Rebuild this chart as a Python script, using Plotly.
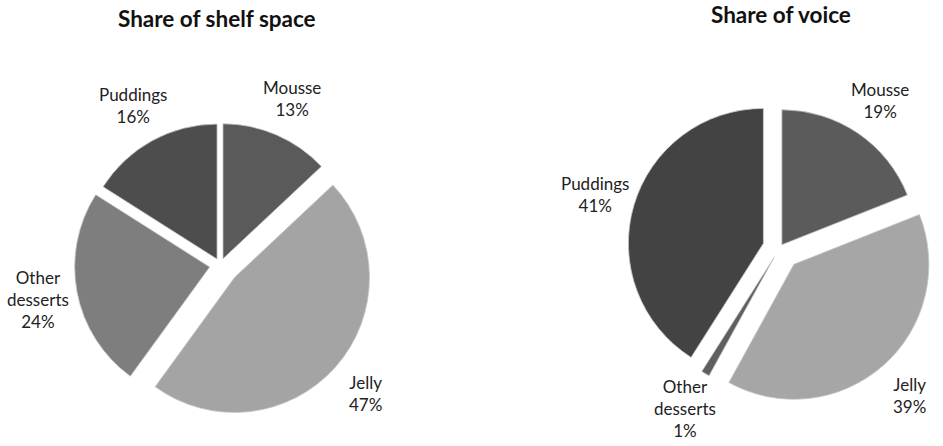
import math
import plotly.graph_objects as go

categories = ["Mousse", "Jelly", "Other desserts", "Puddings"]
shelf_values = [13, 47, 24, 16]
voice_values = [19, 39, 1, 41]
shelf_colors = ["#5a5a5a", "#a4a4a4", "#7e7e7e", "#4d4d4d"]
voice_colors = ["#5b5b5b", "#a6a6a6", "#5f5f5f", "#434343"]
shelf_pull = [0.05, 0.14, 0.08, 0.05]
voice_pull = [0.03, 0.16, 0.08, 0.125]
titles = ["Share of shelf space", "Share of voice"]

label_text = [c.replace(" ", "<br>") for c in categories]
W, H = 943, 446
R = 135          # pie radius in px
LABEL_GAP = 40   # distance of label centre beyond the pulled slice edge


def dom(cx, cy, r, pull):
    size = 2 * r * (1 + max(pull))
    return dict(x=[(cx - size / 2) / W, (cx + size / 2) / W],
                y=[1 - (cy + size / 2) / H, 1 - (cy - size / 2) / H])


label_font = dict(family="Lato, 'Open Sans', sans-serif", size=17, color="#222222")
title_font = dict(family="Lato, sans-serif", size=22.5, color="#111111")

fig = go.Figure()
pies = [
    (shelf_values, shelf_colors, shelf_pull, 220.3, 265.0),
    (voice_values, voice_colors, voice_pull, 779.6, 248.1),
]
for vals, cols, pull, cx, cy in pies:
    fig.add_trace(go.Pie(
        labels=categories, values=vals, text=label_text,
        textinfo="none", automargin=False,
        marker=dict(colors=cols, line=dict(color="#c8c8c8", width=0.8)),
        pull=pull, sort=False, direction="clockwise", rotation=0,
        domain=dom(cx, cy, R, pull), showlegend=False,
        hoverinfo="label+percent",
    ))
    # data labels placed outside each slice, along its bisector
    total = sum(vals)
    cum = 0
    for v, p, t in zip(vals, pull, label_text):
        theta = 2 * math.pi * (cum + v / 2) / total
        cum += v
        dist = R * (1 + p) + LABEL_GAP
        lx = cx + dist * math.sin(theta)
        ly = cy - dist * math.cos(theta)
        fig.add_annotation(
            text=f"{t}<br>{round(100 * v / total)}%",
            x=lx / W, y=1 - ly / H, xref="paper", yref="paper",
            showarrow=False, xanchor="center", yanchor="middle",
            align="center", font=label_font,
        )

fig.add_annotation(text="<b>" + titles[0] + "</b>", x=216.5 / W, y=1 - 18 / H,
                   xref="paper", yref="paper", showarrow=False,
                   xanchor="center", yanchor="middle", font=title_font)
fig.add_annotation(text="<b>" + titles[1] + "</b>", x=781 / W, y=1,
                   xref="paper", yref="paper", showarrow=False,
                   xanchor="center", yanchor="top", borderpad=0,
                   font=title_font)

fig.update_layout(width=W, height=H,
                  margin=dict(l=0, r=0, t=0, b=0, pad=0, autoexpand=False),
                  showlegend=False,
                  paper_bgcolor="white", plot_bgcolor="white")
fig.write_html("out.html")
